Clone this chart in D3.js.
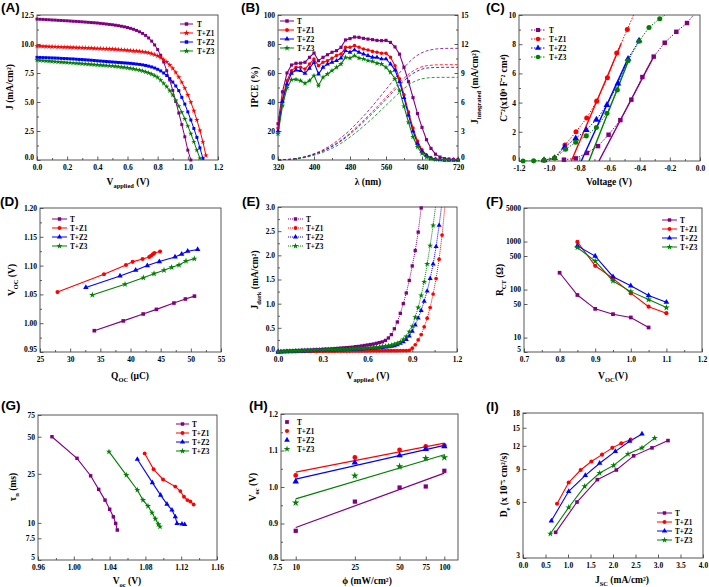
<!DOCTYPE html>
<html><head><meta charset="utf-8">
<script src="https://cdn.jsdelivr.net/npm/d3@7"></script>
<style>body{margin:0;background:#fff}</style>
</head><body>
<svg id="c" width="709" height="587" xmlns="http://www.w3.org/2000/svg"></svg>
<script>
// ---------------- DATA ----------------
const NAMES = ["T","T+Z1","T+Z2","T+Z3"];
const COLORS = ["#800080","#ff0000","#0000ff","#008000"];

const V_SWEEP = [0.00,0.02,0.04,0.06,0.08,0.10,0.12,0.14,0.16,0.18,0.20,0.22,0.24,0.26,0.28,0.30,0.32,0.34,0.36,0.38,0.40,0.42,0.44,0.46,0.48,0.50,0.52,0.54,0.56,0.58,0.60,0.62,0.64,0.66,0.68,0.70,0.72,0.74,0.76,0.78,0.80,0.82,0.84,0.86,0.88,0.90,0.92,0.94,0.96,0.98,1.00,1.02,1.04,1.06,1.08,1.10,1.12];

// (A) J-V under illumination
const A_T  = [12.15,12.13,12.12,12.10,12.09,12.07,12.06,12.04,12.03,12.01,12.00,11.98,11.96,11.95,11.93,11.91,11.89,11.87,11.85,11.83,11.81,11.78,11.75,11.72,11.69,11.66,11.62,11.58,11.53,11.48,11.42,11.35,11.27,11.17,11.05,10.91,10.74,10.52,10.25,9.92,9.52,9.03,8.45,7.70,6.90,6.00,5.05,4.05,3.05,2.00,0.85,0.0];
const A_Z1 = [9.82,9.81,9.80,9.79,9.78,9.77,9.76,9.75,9.74,9.73,9.72,9.71,9.70,9.69,9.68,9.67,9.66,9.65,9.64,9.62,9.61,9.60,9.59,9.58,9.57,9.56,9.54,9.52,9.50,9.48,9.45,9.43,9.41,9.39,9.36,9.33,9.29,9.24,9.17,9.08,8.97,8.83,8.66,8.45,8.20,7.90,7.55,7.15,6.70,6.20,5.62,4.98,4.25,3.45,2.55,1.55,0.40];
const A_Z2 = [8.85,8.84,8.83,8.82,8.81,8.80,8.79,8.78,8.76,8.75,8.74,8.72,8.71,8.69,8.67,8.66,8.64,8.62,8.60,8.58,8.55,8.53,8.51,8.49,8.47,8.45,8.43,8.41,8.39,8.37,8.35,8.33,8.30,8.27,8.24,8.20,8.15,8.09,8.02,7.93,7.82,7.68,7.50,7.28,7.02,6.72,6.38,5.98,5.40,4.82,4.15,3.45,2.72,1.95,1.05,0.15];
const A_Z3 = [8.60,8.58,8.56,8.54,8.52,8.50,8.48,8.46,8.44,8.42,8.40,8.38,8.36,8.34,8.32,8.30,8.28,8.26,8.24,8.22,8.20,8.18,8.16,8.14,8.12,8.10,8.07,8.04,8.01,7.98,7.94,7.90,7.85,7.80,7.75,7.68,7.60,7.51,7.40,7.27,7.12,6.88,6.60,6.32,5.98,5.58,5.14,4.65,4.12,3.55,2.93,2.27,1.57,0.85,0.15];

// (B) IPCE and integrated current
const B_LAMBDA = [320,330,340,350,360,370,380,390,400,410,420,430,440,450,460,470,480,490,500,510,520,530,540,550,560,570,580,590,600,610,620,630,640,650,660,670,680,690,700,710,720];
const B_T  = [25,47,60,65.5,66.7,66.8,67.4,70.8,73.8,68.5,70.8,72.6,74.3,75.4,77.7,82.8,83.7,84.8,84.6,83.9,83.4,83,82.5,82.3,82.5,81.1,78,73,64,54,43,32,22.5,14,8,4,2,1,0.6,0.4,0.2];
const B_Z1 = [22,42,54.7,61.6,63.9,63.9,62.8,66.2,69.7,65,67.4,68.5,70.1,72,73.1,77.7,77.7,78.9,77.7,76.6,75.9,74.9,74.3,73.6,73.6,70.8,65,56,45,33,22,13,7,3.5,1.5,0.7,0.3,0.1,0,0,0];
const B_Z2 = [20,40.5,52.4,59.8,62,61.6,59.8,63.2,67.4,59.3,63.9,66.2,67.4,68.5,70.3,75.4,74.3,75.9,74.3,73.1,72,70.8,70.8,69.7,69.7,66.2,62,54,43,31,20,11.5,6,3,1.2,0.5,0.2,0,0,0,0];
const B_Z3 = [18,37.5,49.7,55.4,55.6,54.7,52.9,54.7,58.2,51.3,57,59.3,61.6,63.9,66.2,70.8,70.3,72,70.3,69.7,68.5,68,66.7,66.2,63.9,60.5,56,48,37,26,16,9,4.5,2,0.8,0.3,0.1,0,0,0,0];
const B_LAMBDA_INT = [320,340,360,380,400,420,440,460,480,500,520,540,560,580,600,620,640,660,680,700,720];
const B_T_INT  = [0,0.05,0.15,0.35,0.65,1.05,1.6,2.3,3.1,4.05,5.05,6.15,7.3,8.45,9.55,10.5,11.1,11.4,11.52,11.55,11.55];
const B_Z1_INT = [0,0.05,0.14,0.32,0.6,0.97,1.45,2.05,2.8,3.65,4.55,5.5,6.5,7.5,8.45,9.2,9.65,9.8,9.85,9.86,9.86];
const B_Z2_INT = [0,0.05,0.13,0.3,0.57,0.92,1.38,1.96,2.68,3.5,4.38,5.3,6.28,7.27,8.2,8.95,9.4,9.55,9.58,9.59,9.59];
const B_Z3_INT = [0,0.04,0.11,0.26,0.49,0.8,1.2,1.72,2.37,3.1,3.9,4.75,5.65,6.55,7.4,8.05,8.4,8.52,8.55,8.55,8.55];

// (C) Mott-Schottky
const C_T_V  = [-0.902,-0.824,-0.749,-0.676,-0.606,-0.528,-0.455,-0.382,-0.307,-0.234,-0.157,-0.086,-0.02];
const C_T    = [0.09,0.18,0.55,1.02,1.8,2.8,4.2,5.75,7.15,8.1,8.85,9.45,10.3];
const C_Z1_V = [-1.034,-0.964,-0.895,-0.822,-0.751,-0.685,-0.614,-0.552,-0.482,-0.42];
const C_Z1   = [0.05,0.2,1.1,2.0,2.95,4.1,5.7,7.4,9.0,10.5];
const C_Z2_V = [-1.034,-0.964,-0.897,-0.824,-0.754,-0.687,-0.617,-0.544,-0.477,-0.404];
const C_Z2   = [0.05,0.2,0.95,1.55,2.12,2.83,3.84,5.3,7.0,8.25];
const C_Z3_V = [-1.173,-1.103,-1.034,-0.964,-0.891,-0.824,-0.754,-0.687,-0.617,-0.548,-0.477,-0.404,-0.338,-0.267,-0.19];
const C_Z3   = [0,0.01,0.07,0.2,0.8,1.28,1.72,2.3,3.27,4.86,6.87,8.2,9.15,9.75,10.3];
const C_FIT_V0 = [-0.670,-0.853,-0.787,-0.736];
const C_FIT_V1 = [-0.307,-0.522,-0.477,-0.477];
const C_FIT_Y1 = [7.15,8.05,7.03,6.8];

// (D) Voc vs Qoc
const D_T_Q  = [34.0,38.8,42.1,44.3,47.2,49.1,50.6];
const D_T    = [0.987,1.004,1.016,1.024,1.035,1.042,1.047];
const D_Z1_Q = [27.9,35.6,39.25,40.36,42.0,43.1,43.4,43.7,43.95,44.9];
const D_Z1   = [1.054,1.085,1.101,1.1065,1.1115,1.115,1.117,1.1195,1.122,1.1245];
const D_Z2_Q = [32.6,38.26,40.86,42.79,44.78,47.38,48.48,49.48,51.13];
const D_Z2   = [1.062,1.082,1.092,1.100,1.107,1.115,1.12,1.125,1.128];
const D_Z3_Q = [33.67,39.09,42.13,43.9,45.55,46.82,48.04,49.2,50.58];
const D_Z3   = [1.049,1.0675,1.079,1.086,1.092,1.097,1.101,1.108,1.112];

// (E) dark current
const E_T  = [0.00,0.01,0.015,0.02,0.02,0.025,0.03,0.03,0.035,0.035,0.04,0.04,0.045,0.05,0.05,0.055,0.06,0.06,0.065,0.07,0.075,0.08,0.085,0.09,0.095,0.10,0.11,0.115,0.125,0.135,0.145,0.155,0.165,0.18,0.195,0.21,0.24,0.29,0.36,0.48,0.62,0.80,1.00,1.22,1.48,1.78,2.10,2.48,2.98];
const E_Z1 = [0,0.003,0.005,0.007,0.008,0.01,0.01,0.012,0.012,0.013,0.014,0.014,0.015,0.015,0.016,0.016,0.017,0.017,0.018,0.018,0.019,0.019,0.02,0.02,0.02,0.021,0.021,0.022,0.022,0.023,0.023,0.024,0.024,0.025,0.025,0.026,0.026,0.027,0.027,0.028,0.028,0.029,0.03,0.03,0.035,0.08,0.15,0.25,0.36,0.52,0.70,0.92,1.20,1.52,1.92,2.42,3.05];
const E_Z2 = [0,0.005,0.008,0.01,0.012,0.014,0.016,0.018,0.02,0.022,0.024,0.026,0.028,0.03,0.032,0.034,0.036,0.038,0.04,0.042,0.044,0.046,0.048,0.05,0.052,0.054,0.057,0.06,0.063,0.066,0.07,0.074,0.078,0.083,0.088,0.094,0.10,0.108,0.118,0.13,0.15,0.18,0.21,0.26,0.33,0.43,0.56,0.70,0.86,1.05,1.26,1.52,1.82,2.18,2.62,3.1];
const E_Z3 = [0,0.006,0.01,0.013,0.016,0.019,0.022,0.025,0.028,0.031,0.034,0.036,0.038,0.04,0.042,0.044,0.046,0.048,0.05,0.052,0.054,0.056,0.058,0.06,0.063,0.066,0.069,0.072,0.075,0.079,0.083,0.088,0.093,0.099,0.105,0.112,0.12,0.13,0.142,0.16,0.18,0.21,0.26,0.32,0.42,0.53,0.72,0.92,1.17,1.45,1.82,2.20,2.62,3.1];

// (F) charge-transfer resistance
const F_T_V = [0.8,0.85,0.9,0.95,1.0,1.05];
const F_T   = [224,77,39.6,30.7,26.2,16.2];
const F_Z_V = [0.85,0.9,0.95,1.0,1.05,1.1];
const F_Z1  = [984,313,171,84,44,32.2];
const F_Z2  = [813,497,185,120,75,54.5];
const F_Z3  = [752,391,151,90.5,61.8,42.2];

// (G) electron lifetime
const G_T_V  = [0.9756,1.0036,1.0188,1.0278,1.0349,1.0401,1.0442,1.0468,1.0486];
const G_T    = [50,33.4,24.1,18.7,15.3,12.9,11.2,9.9,8.75];
const G_Z1_V = [1.0792,1.0892,1.0997,1.1134,1.119,1.1231,1.1269,1.1302,1.1339];
const G_Z1   = [36.6,27.2,22.5,19.7,18.1,16.3,15.3,14.9,14.1];
const G_Z2_V = [1.071,1.0878,1.097,1.1041,1.1097,1.1134,1.1153,1.1209,1.1239];
const G_Z2   = [32.8,21.2,16.8,14.2,12.7,11.2,9.9,9.8,9.7];
const G_Z3_V = [1.0393,1.0587,1.071,1.0773,1.0829,1.0874,1.0911,1.0945,1.0963];
const G_Z3   = [37.8,24.4,18.5,15.3,13.7,12.1,10.8,9.73,9.31];

// (H) Voc vs light intensity
const H_PHI = [10,25,50,75,100];
const H_T  = [0.880,0.960,0.9986,1.0014,1.0444];
const H_Z1 = [1.0316,1.081,1.102,1.111,1.114];
const H_Z2 = [1.015,1.067,1.0865,1.104,1.111];
const H_Z3 = [0.957,1.0307,1.0563,1.079,1.081];
const H_FIT_PHI = [10,100];
const H_FIT_T  = [0.889,1.038];
const H_FIT_Z1 = [1.0407,1.120];
const H_FIT_Z2 = [1.0215,1.114];
const H_FIT_Z3 = [0.9675,1.0883];

// (I) diffusion coefficient
const I_T_J  = [0.726,1.2,1.652,2.074,2.459,2.867,3.222];
const I_T    = [4.12,5.99,7.9,8.9,10.6,11.7,12.8];
const I_Z1_J = [0.756,1.015,1.281,1.519,1.756,1.985,2.185,2.393];
const I_Z1   = [5.86,7.62,8.9,9.88,10.76,11.7,12.4,12.95];
const I_Z2_J = [0.63,1.015,1.385,1.704,2.052,2.37,2.644];
const I_Z2   = [4.75,6.84,8.33,9.67,11.2,12.7,13.9];
const I_Z3_J = [0.607,1.015,1.37,1.704,2.015,2.333,2.644,2.926];
const I_Z3   = [4.05,5.6,7.27,8.57,9.42,10.85,11.7,13.2];

// ---------------- DRAWING ----------------
const svg = d3.select('#c');
const SERIF = "'Liberation Serif','Times New Roman',serif";
const SANS = "'Liberation Sans',Arial,sans-serif";
let clipN = 0;
const F1 = d3.format('.1f'), F2 = d3.format('.2f'), F0 = d => String(d);

function styleTicks(sel) {
  sel.selectAll('.domain').remove();
  sel.selectAll('.tick line').attr('stroke', '#333').attr('stroke-width', 0.8);
  sel.selectAll('.tick text').attr('font-family', SERIF).attr('font-weight', 'bold')
    .attr('font-size', 7.5).attr('fill', '#000');
}

function makePanel(o) {
  const g = svg.append('g');
  const x = (o.xlog ? d3.scaleLog() : d3.scaleLinear()).domain(o.xd).range([o.x0, o.x1]);
  const y = (o.ylog ? d3.scaleLog() : d3.scaleLinear()).domain(o.yd).range([o.y1, o.y0]);
  const id = 'clip' + (++clipN);
  svg.append('clipPath').attr('id', id).append('rect')
    .attr('x', o.x0).attr('y', o.y0).attr('width', o.x1 - o.x0).attr('height', o.y1 - o.y0);
  const ax = (a, tv, fmt, s, pad) => a.tickValues(tv).tickFormat(fmt).tickSizeInner(s).tickSizeOuter(0).tickPadding(pad);
  g.append('g').attr('transform', `translate(0,${o.y1})`).call(ax(d3.axisBottom(x), o.xt, o.xf, -3.5, 5));
  if (o.xm) g.append('g').attr('transform', `translate(0,${o.y1})`).call(ax(d3.axisBottom(x), o.xm, () => '', -2, 3));
  const left = g.append('g').attr('transform', `translate(${o.x0},0)`).call(ax(d3.axisLeft(y), o.yt, o.yf, -3.5, 3));
  if (o.ym) g.append('g').attr('transform', `translate(${o.x0},0)`).call(ax(d3.axisLeft(y), o.ym, () => '', -2, 3));
  styleTicks(g);
  // lift the lowest left label a little so it clears the first bottom label
  left.selectAll('.tick').filter(d => d === o.yt[0]).select('text').attr('dy', '-0.05em');
  g.append('rect').attr('x', o.x0).attr('y', o.y0).attr('width', o.x1 - o.x0).attr('height', o.y1 - o.y0)
    .attr('fill', 'none').attr('stroke', '#444').attr('stroke-width', 0.9);
  const plot = g.append('g').attr('clip-path', `url(#${id})`);
  const marks = g.append('g');
  g.append('text').attr('x', o.lx).attr('y', o.ly).attr('font-family', SANS).attr('font-weight', 'bold')
    .attr('font-size', 13.5).text(o.letter);
  return { g, x, y, plot, marks, o };
}

function rich(g, x, y, parts, rot) {
  const fs = 9.5;
  const t = g.append('text').attr('x', x).attr('y', y).attr('text-anchor', 'middle')
    .attr('font-family', SERIF).attr('font-weight', 'bold').attr('font-size', fs).attr('fill', '#000');
  if (rot) t.attr('transform', `rotate(${rot},${x},${y})`);
  let shift = 0;
  parts.forEach(p => {
    const [s, k] = Array.isArray(p) ? p : [p, null];
    const target = k === 'sub' ? 2.5 : 0;
    t.append('tspan').attr('dy', target - shift).attr('font-size', k ? fs * 0.68 : fs).text(s);
    shift = target;
  });
}

function series(p, xs, ys, color, sym, size, opt = {}) {
  const pts = ys.map((v, i) => [xs[i], v]);
  const ysc = opt.yscale || p.y;
  if (opt.line !== false) {
    p.plot.append('path').datum(pts)
      .attr('d', d3.line().x(d => p.x(d[0])).y(d => ysc(d[1])).curve(opt.curve || d3.curveLinear))
      .attr('fill', 'none').attr('stroke', color).attr('stroke-width', opt.lw || 1)
      .attr('stroke-dasharray', opt.dash || null);
  }
  if (sym) {
    const dom = ysc.domain();
    const mp = pts.filter(d => d[1] <= dom[1] && d[1] >= dom[0]);
    p.marks.selectAll(null).data(mp).join('path')
      .attr('transform', d => `translate(${p.x(d[0])},${ysc(d[1])})`)
      .attr('d', d3.symbol().type(sym).size(size)).attr('fill', color);
  }
}

function legend(p, x0, x1, tx, ys, syms, size, opt = {}) {
  NAMES.forEach((n, i) => {
    const yy = ys[i];
    if (opt.line !== false)
      p.g.append('line').attr('x1', x0).attr('x2', x1).attr('y1', yy).attr('y2', yy)
        .attr('stroke', COLORS[i]).attr('stroke-width', 1).attr('stroke-dasharray', opt.dash || null);
    p.g.append('path').attr('transform', `translate(${(x0 + x1) / 2},${yy})`)
      .attr('d', d3.symbol().type(syms[i]).size(size)).attr('fill', COLORS[i]);
    p.g.append('text').attr('x', tx).attr('y', yy + 2.6).attr('font-family', SERIF).attr('font-weight', 'bold')
      .attr('font-size', 7.2).text(n);
  });
}

const SQ = d3.symbolSquare, CI = d3.symbolCircle, TR = d3.symbolTriangle, ST = d3.symbolStar;

// ---- (A)
{
  const p = makePanel({ x0: 37, x1: 218, y0: 15, y1: 160, xd: [0, 1.2], yd: [0, 12.5],
    xt: [0, 0.2, 0.4, 0.6, 0.8, 1.0, 1.2], xf: F1, xm: [0.1, 0.3, 0.5, 0.7, 0.9, 1.1],
    yt: [0, 2.5, 5, 7.5, 10, 12.5], yf: F1, ym: [1.25, 3.75, 6.25, 8.75, 11.25],
    letter: '(A)', lx: 1, ly: 12 });
  const ser = [A_T, A_Z1, A_Z2, A_Z3], sy = [SQ, ST, SQ, ST];
  ser.forEach((s, i) => series(p, V_SWEEP, s, COLORS[i], sy[i], 9, { lw: 1 }));
  legend(p, 180, 193, 197, [24, 33, 42, 51], sy, 12);
  rich(p.g, 128, 185, ['V', ['applied', 'sub'], ' (V)']);
  rich(p.g, 13, 87, ['J (mA/cm²)'], -90);
}

// ---- (B)
{
  const p = makePanel({ x0: 278, x1: 458, y0: 15, y1: 160, xd: [320, 720], yd: [0, 100],
    xt: [320, 400, 480, 560, 640, 720], xf: F0, xm: [360, 440, 520, 600, 680],
    yt: [0, 20, 40, 60, 80, 100], yf: F0, ym: [10, 30, 50, 70, 90],
    letter: '(B)', lx: 241, ly: 12 });
  const yR = d3.scaleLinear().domain([0, 15]).range([160, 15]);
  const ra = d3.axisRight(yR).tickValues([0, 3, 6, 9, 12, 15]).tickFormat(F0).tickSizeInner(-3.5).tickSizeOuter(0).tickPadding(3);
  const rg = p.g.append('g').attr('transform', 'translate(458,0)').call(ra);
  const rm = p.g.append('g').attr('transform', 'translate(458,0)')
    .call(d3.axisRight(yR).tickValues([1.5, 4.5, 7.5, 10.5, 13.5]).tickFormat(() => '').tickSizeInner(-2).tickSizeOuter(0));
  styleTicks(rg); styleTicks(rm);
  rg.selectAll('.tick').filter(d => d === 0).select('text').attr('dy', '-0.05em');
  const ints = [B_T_INT, B_Z1_INT, B_Z2_INT, B_Z3_INT];
  ints.forEach((s, i) => series(p, B_LAMBDA_INT, s, COLORS[i], null, 0,
    { yscale: yR, dash: '3,2', lw: 0.8, curve: d3.curveMonotoneX }));
  const ser = [B_T, B_Z1, B_Z2, B_Z3], sy = [SQ, CI, TR, ST];
  ser.forEach((s, i) => series(p, B_LAMBDA, s, COLORS[i], sy[i], 10, { lw: 1.1 }));
  legend(p, 280, 294, 297, [21, 30, 39, 48], sy, 12);
  rich(p.g, 368, 185, ['λ (nm)']);
  rich(p.g, 258, 87, ['IPCE (%)'], -90);
  rich(p.g, 478, 87, ['J', ['integrated', 'sub'], ' (mA/cm²)'], -90);
}

// ---- (C)
{
  const p = makePanel({ x0: 519, x1: 700, y0: 15, y1: 161, xd: [-1.2, 0], yd: [0, 10],
    xt: [-1.2, -1.0, -0.8, -0.6, -0.4, -0.2, 0], xf: d => F1(d).replace('−', '-').replace('-0.0', '0.0'),
    xm: [-1.1, -0.9, -0.7, -0.5, -0.3, -0.1],
    yt: [0, 2, 4, 6, 8, 10], yf: F0, ym: [1, 3, 5, 7, 9],
    letter: '(C)', lx: 486, ly: 12 });
  const xs = [C_T_V, C_Z1_V, C_Z2_V, C_Z3_V], ys = [C_T, C_Z1, C_Z2, C_Z3], sy = [SQ, CI, TR, CI];
  ys.forEach((s, i) => series(p, xs[i], s, COLORS[i], sy[i], 20, { dash: '1.5,1.5', lw: 1 }));
  C_FIT_V0.forEach((v0, i) => series(p, [v0, C_FIT_V1[i]], [0, C_FIT_Y1[i]], COLORS[i], null, 0, { lw: 1.4 }));
  legend(p, 531, 545, 549, [30, 39, 48, 57], sy, 16, { dash: '1.5,1.5' });
  rich(p.g, 609, 185, ['Voltage (V)']);
  rich(p.g, 507, 88, ['C⁻²(x10⁹ F⁻² cm⁴)'], -90);
}

// ---- (D)
{
  const p = makePanel({ x0: 40, x1: 221, y0: 208, y1: 352, xd: [25, 55], yd: [0.95, 1.20],
    xt: [25, 30, 35, 40, 45, 50, 55], xf: F0, xm: [27.5, 32.5, 37.5, 42.5, 47.5, 52.5],
    yt: [0.95, 1.0, 1.05, 1.1, 1.15, 1.2], yf: F2, ym: [0.975, 1.025, 1.075, 1.125, 1.175],
    letter: '(D)', lx: 0, ly: 206 });
  const xs = [D_T_Q, D_Z1_Q, D_Z2_Q, D_Z3_Q], ys = [D_T, D_Z1, D_Z2, D_Z3], sy = [SQ, CI, TR, ST];
  ys.forEach((s, i) => series(p, xs[i], s, COLORS[i], sy[i], 13, { lw: 1.1 }));
  legend(p, 52, 67, 70, [219, 228, 237, 246], sy, 12);
  rich(p.g, 130, 379, ['Q', ['OC', 'sub'], ' (μC)']);
  rich(p.g, 15, 280, ['V', ['OC', 'sub'], ' (V)'], -90);
}

// ---- (E)
{
  const p = makePanel({ x0: 278, x1: 457, y0: 207, y1: 352, xd: [0, 1.2], yd: [0, 3.0],
    xt: [0, 0.3, 0.6, 0.9, 1.2], xf: F1, xm: [0.15, 0.45, 0.75, 1.05],
    yt: [0, 0.5, 1.0, 1.5, 2.0, 2.5, 3.0], yf: F1, ym: [0.25, 0.75, 1.25, 1.75, 2.25, 2.75],
    letter: '(E)', lx: 242, ly: 206 });
  const ser = [E_T, E_Z1, E_Z2, E_Z3], sy = [SQ, CI, TR, ST];
  ser.forEach((s, i) => series(p, V_SWEEP, s, COLORS[i], sy[i], 11, { dash: '1,1', lw: 1 }));
  legend(p, 288, 303, 306, [219, 228, 237, 246], sy, 12, { dash: '1,1' });
  rich(p.g, 368, 379, ['V', ['applied', 'sub'], ' (V)']);
  rich(p.g, 258, 280, ['J', ['dark', 'sub'], ' (mA/cm²)'], -90);
}

// ---- (F)
{
  const p = makePanel({ x0: 524, x1: 702, y0: 208, y1: 352, xd: [0.7, 1.2], yd: [5, 5000], ylog: true,
    xt: [0.7, 0.8, 0.9, 1.0, 1.1, 1.2], xf: F1, xm: [0.75, 0.85, 0.95, 1.05, 1.15],
    yt: [5, 10, 50, 100, 500, 1000, 5000], yf: F0,
    letter: '(F)', lx: 486, ly: 206 });
  const xs = [F_T_V, F_Z_V, F_Z_V, F_Z_V], ys = [F_T, F_Z1, F_Z2, F_Z3], sy = [SQ, CI, TR, ST];
  ys.forEach((s, i) => series(p, xs[i], s, COLORS[i], sy[i], 14, { lw: 1.1 }));
  legend(p, 662, 677, 680, [220, 229, 238, 247], sy, 12);
  rich(p.g, 613, 379, ['V', ['OC', 'sub'], '(V)']);
  rich(p.g, 503, 280, ['R', ['CT', 'sub'], ' (Ω)'], -90);
}

// ---- (G)
{
  const p = makePanel({ x0: 38, x1: 217, y0: 415, y1: 560, xd: [0.96, 1.16], yd: [5, 75], ylog: true,
    xt: [0.96, 1.0, 1.04, 1.08, 1.12, 1.16], xf: F2, xm: [0.98, 1.02, 1.06, 1.10, 1.14],
    yt: [5, 7.5, 10, 25, 50, 75], yf: F0,
    letter: '(G)', lx: 1, ly: 410 });
  const xs = [G_T_V, G_Z1_V, G_Z2_V, G_Z3_V], ys = [G_T, G_Z1, G_Z2, G_Z3], sy = [SQ, CI, TR, ST];
  ys.forEach((s, i) => series(p, xs[i], s, COLORS[i], sy[i], 12, { lw: 1.1 }));
  legend(p, 176, 189, 192, [424, 433, 442, 451], sy, 12);
  rich(p.g, 127, 584, ['V', ['oc', 'sub'], ' (V)']);
  rich(p.g, 16, 487, ['τ', ['n', 'sub'], ' (ms)'], -90);
}

// ---- (H)
{
  const p = makePanel({ x0: 281, x1: 458, y0: 414, y1: 560, xd: [7.96, 123.6], xlog: true, yd: [0.8, 1.2],
    xt: [7.5, 10, 25, 50, 75, 100], xf: F0,
    yt: [0.8, 0.9, 1.0, 1.1, 1.2], yf: F1, ym: [0.85, 0.95, 1.05, 1.15],
    letter: '(H)', lx: 249, ly: 410 });
  const ys = [H_T, H_Z1, H_Z2, H_Z3], fits = [H_FIT_T, H_FIT_Z1, H_FIT_Z2, H_FIT_Z3], sy = [SQ, CI, TR, ST];
  fits.forEach((f, i) => series(p, H_FIT_PHI, f, COLORS[i], null, 0, { lw: 1.2 }));
  ys.forEach((s, i) => series(p, H_PHI, s, COLORS[i], sy[i], 18, { line: false }));
  legend(p, 283, 291, 297, [422, 431, 440, 449], sy, 14, { line: false });
  rich(p.g, 367, 584, ['ϕ (mW/cm²)']);
  rich(p.g, 256, 487, ['V', ['oc', 'sub'], ' (V)'], -90);
}

// ---- (I)
{
  const p = makePanel({ x0: 523, x1: 703, y0: 413, y1: 558, xd: [0, 4.0], yd: [3, 18], ylog: true,
    xt: [0, 0.5, 1.0, 1.5, 2.0, 2.5, 3.0, 3.5, 4.0], xf: F1,
    yt: [3, 6, 9, 12, 15, 18], yf: F0,
    letter: '(I)', lx: 486, ly: 411 });
  const xs = [I_T_J, I_Z1_J, I_Z2_J, I_Z3_J], ys = [I_T, I_Z1, I_Z2, I_Z3], sy = [SQ, CI, TR, ST];
  ys.forEach((s, i) => series(p, xs[i], s, COLORS[i], sy[i], 13, { lw: 1.1 }));
  legend(p, 657, 672, 675, [513, 522, 531, 540], sy, 12);
  rich(p.g, 622, 583, ['J', ['SC', 'sub'], ' (mA/cm²)']);
  rich(p.g, 507, 485, ['D', ['e', 'sub'], ' (x 10⁻⁵ cm²/s)'], -90);
}
</script>
</body></html>
